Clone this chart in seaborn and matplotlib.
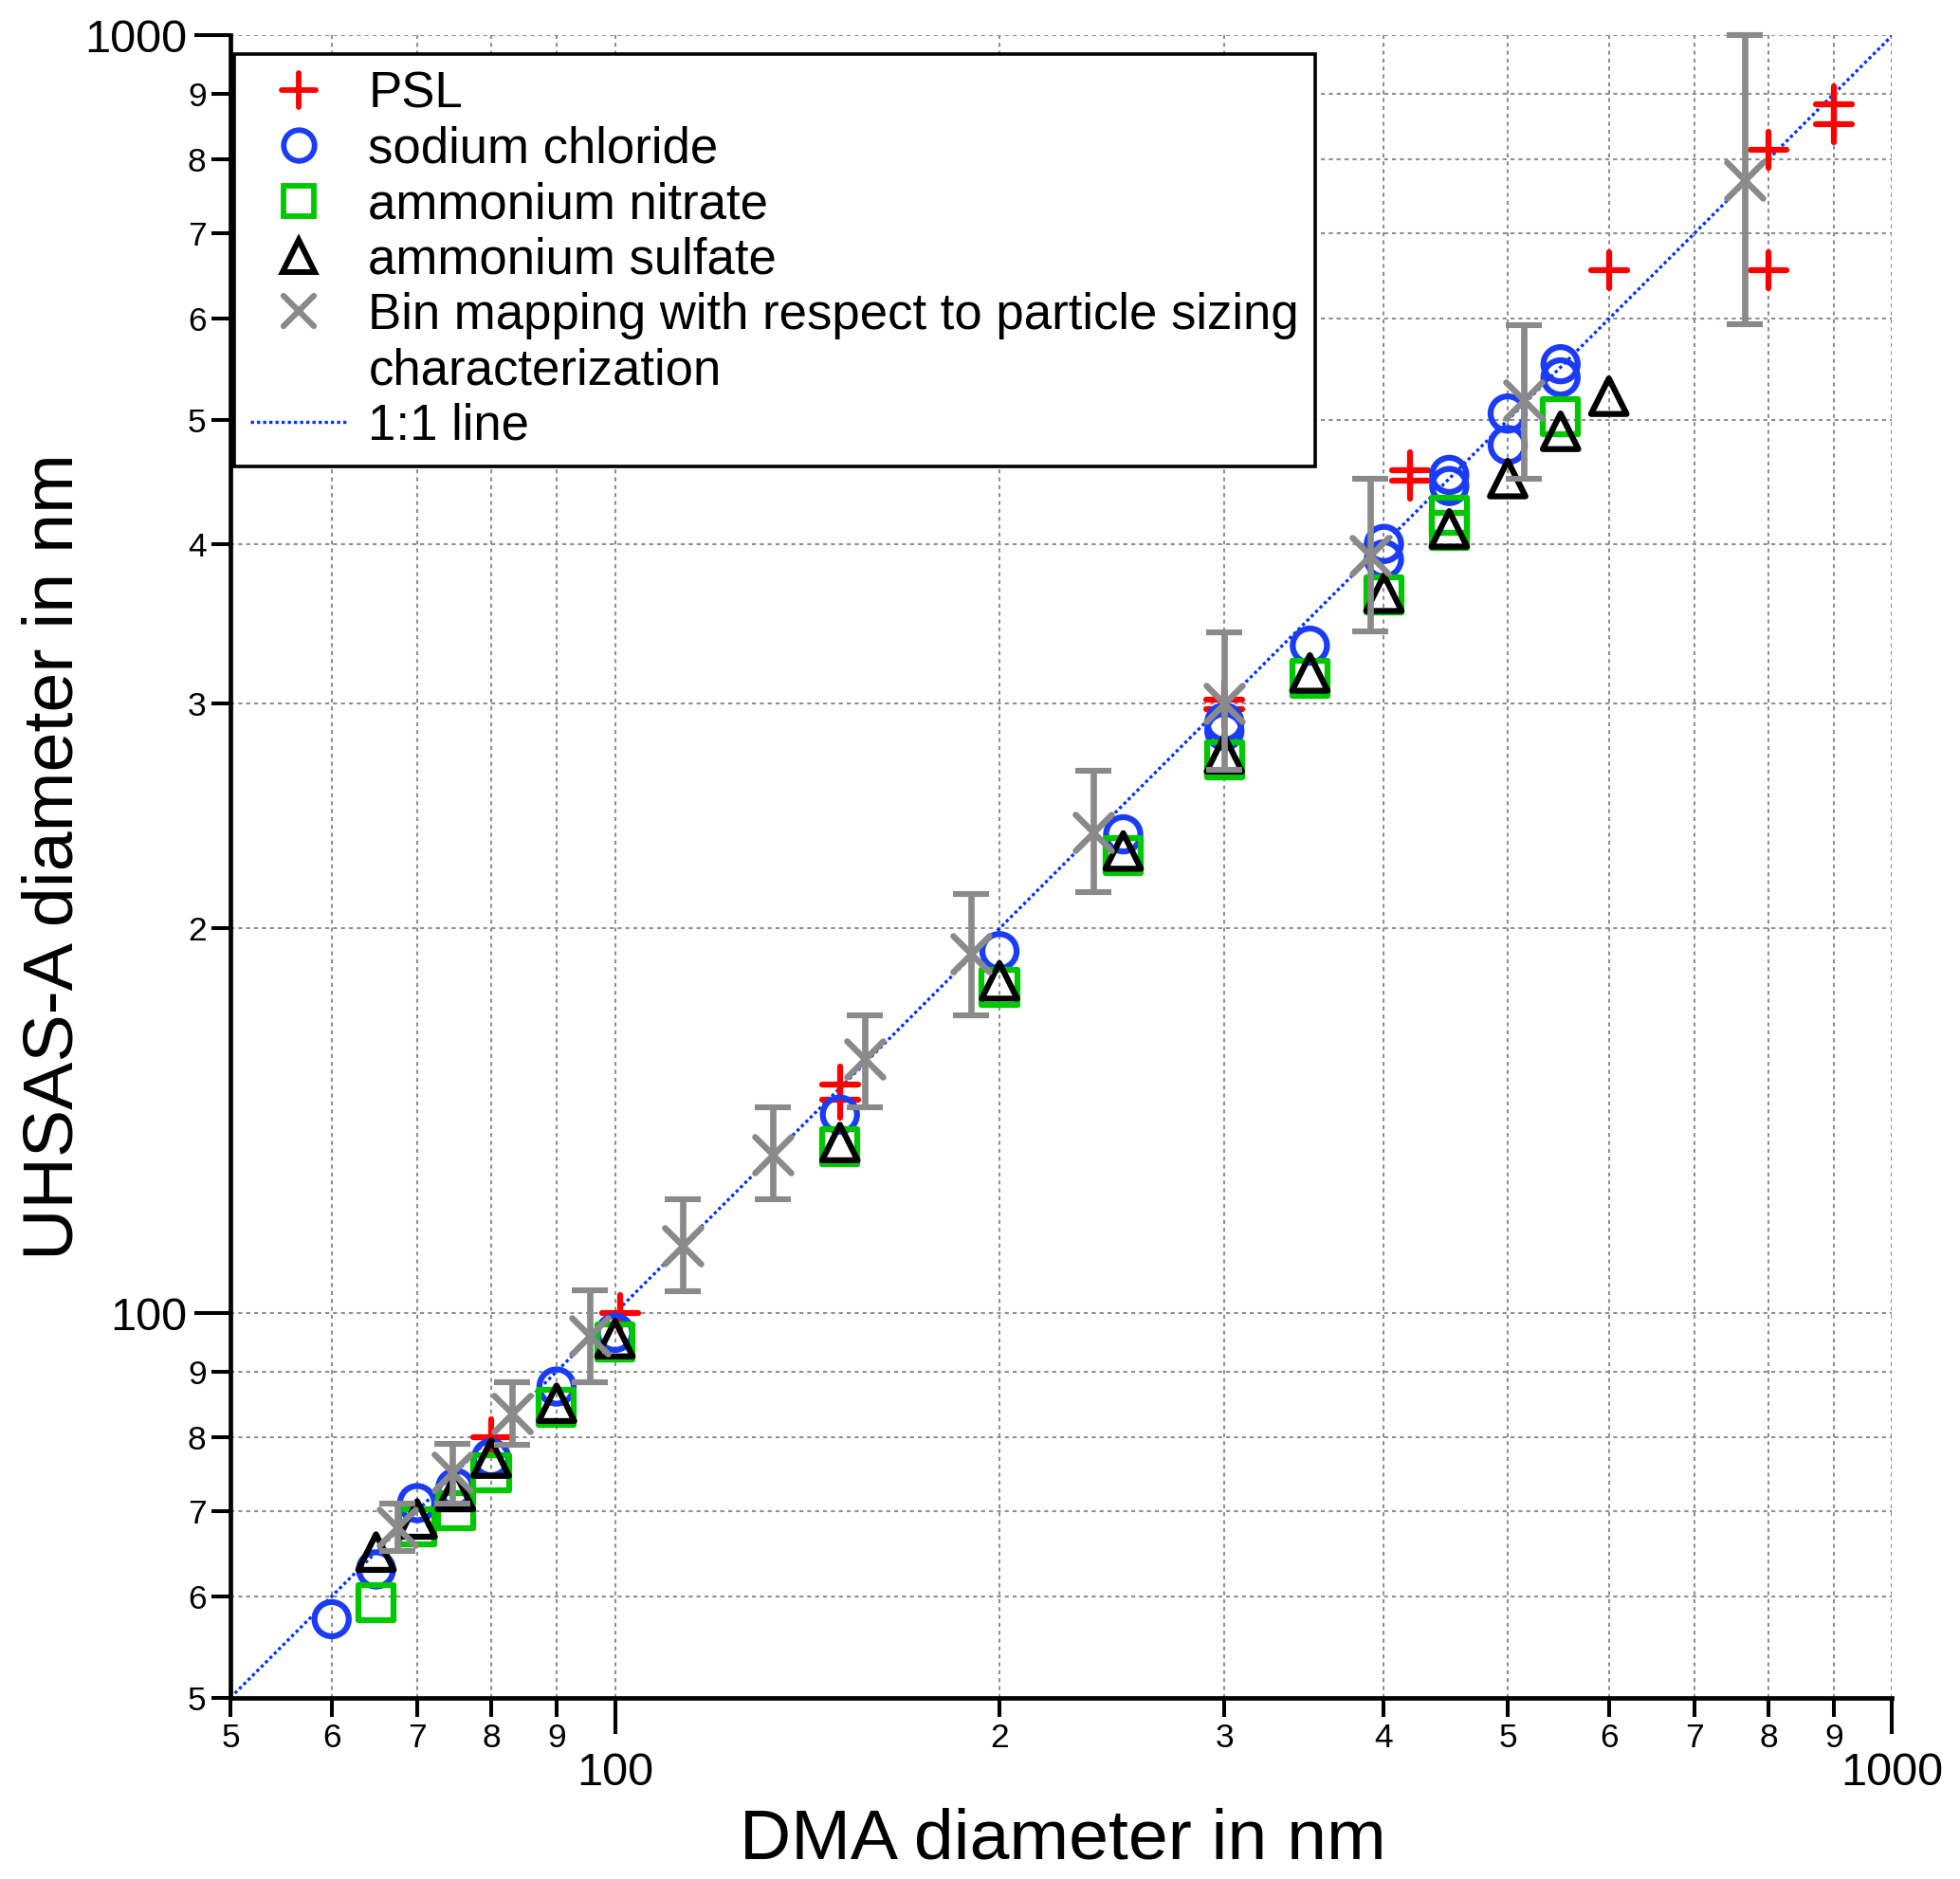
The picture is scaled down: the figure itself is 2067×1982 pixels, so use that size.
import matplotlib
matplotlib.use("Agg")
import matplotlib.pyplot as plt
from matplotlib.lines import Line2D
from matplotlib.markers import MarkerStyle
from matplotlib.ticker import FixedLocator, FixedFormatter
import seaborn as sns
import numpy as np

# ---------------- data ----------------
psl_dma = [80, 101, 150, 150, 300, 300, 419, 419, 600, 800, 800, 900, 900]
psl_uhsas = [80, 100, 151, 147, 302, 297, 457, 448, 655, 814, 655, 884, 852]

nacl_dma = [60, 65, 70, 75, 80, 90, 100, 150, 200, 250, 300, 300, 350,
            400, 400, 450, 450, 500, 500, 550, 550]
nacl_uhsas = [57.6, 63, 71, 73, 77, 87.6, 96.5, 143, 192, 237, 290, 285.5, 333,
              400, 389, 453, 444, 506, 478, 553, 540]

an_dma = [65, 70, 75, 80, 90, 100, 150, 200, 250, 300, 350, 400, 450, 450, 550]
an_uhsas = [59.3, 68, 70, 75, 84.4, 95, 135, 180, 228, 271, 314, 365, 421, 410, 503]

as_dma = [65, 70, 75, 80, 90, 100, 150, 200, 250, 300, 350, 400, 450, 500, 550, 600]
as_uhsas = [65, 69, 72.5, 77, 85, 95.5, 136, 182, 230, 274, 317, 366, 411, 450, 490, 522]

bin_dma = [67.6, 74.6, 83, 95.5, 113, 133, 157, 190, 237, 300, 390, 515, 766]
bin_uhsas = [68, 75, 83.4, 96, 113, 133, 158, 191, 238, 300, 392, 518, 771]
bin_low = [65.1, 70.9, 78.9, 88.3, 104.1, 122.7, 145, 171, 213.4, 266, 341.6, 450, 594]
bin_high = [70.9, 79, 88.3, 104.2, 122.7, 145, 171, 213, 265.7, 341, 450, 593, 1000]

one_to_one = [50, 1000]

major_ticks = [100, 1000]
major_labels = ["100", "1000"]
minor_ticks = [50, 60, 70, 80, 90, 200, 300, 400, 500, 600, 700, 800, 900]
minor_labels = ["5", "6", "7", "8", "9", "2", "3", "4", "5", "6", "7", "8", "9"]

series_labels = ["PSL", "sodium chloride", "ammonium nitrate", "ammonium sulfate",
                 "Bin mapping with respect to particle sizing", "characterization",
                 "1:1 line"]

# ---------------- style ----------------
RED = "#ff0000"
BLUE = "#1a3cf5"
GREEN = "#00c800"
BLACK = "#000000"
GRAY = "#8a8a8a"
LINEBLUE = "#0033ff"
LW = 4.5

plt.rcParams["font.family"] = ["Liberation Sans", "DejaVu Sans"]

fig = plt.figure(figsize=(20.67, 19.82), dpi=100)
ax = fig.add_axes([0.1176, 0.0965, 0.8478, 0.8846])

ax.set_xscale("log")
ax.set_yscale("log")
ax.set_xlim(50, 1000)
ax.set_ylim(50, 1000)

# 1:1 line
sns.lineplot(x=one_to_one, y=one_to_one, ax=ax, color=LINEBLUE, lw=2.4,
             linestyle=(0, (1, 0.95)), zorder=1.5)

sns.scatterplot(x=psl_dma, y=psl_uhsas, ax=ax, marker="+", s=28.0 ** 2,
                color=RED, linewidth=LW, capstyle="round", zorder=2,
                clip_on=False, legend=False)
sns.scatterplot(x=nacl_dma, y=nacl_uhsas, ax=ax, marker="o", s=26.0 ** 2,
                color=BLUE, facecolor="none", edgecolor=BLUE, linewidth=LW,
                zorder=3, clip_on=False, legend=False)
sns.scatterplot(x=an_dma, y=an_uhsas, ax=ax, marker="s", s=26.7 ** 2,
                color=GREEN, facecolor="none", edgecolor=GREEN, linewidth=LW,
                zorder=4, clip_on=False, legend=False)
sns.scatterplot(x=as_dma, y=as_uhsas, ax=ax, marker="^", s=27.0 ** 2,
                color=BLACK, facecolor="none", edgecolor=BLACK, linewidth=LW,
                zorder=5, clip_on=False, legend=False)

yerr = [np.array(bin_uhsas) - np.array(bin_low), np.array(bin_high) - np.array(bin_uhsas)]
ax.errorbar(bin_dma, bin_uhsas, yerr=yerr, fmt="none", ecolor=GRAY,
            elinewidth=4.8, capsize=13.4, capthick=4.4, zorder=6, clip_on=False)
sns.scatterplot(x=bin_dma, y=bin_uhsas, ax=ax, marker="x", s=27.4 ** 2,
                color=GRAY, linewidth=4.7, capstyle="round", zorder=7,
                clip_on=False, legend=False)

# ---------------- axes ----------------
for axis in (ax.xaxis, ax.yaxis):
    axis.set_major_locator(FixedLocator(major_ticks))
    axis.set_major_formatter(FixedFormatter(major_labels))
    axis.set_minor_locator(FixedLocator(minor_ticks))
    axis.set_minor_formatter(FixedFormatter(minor_labels))

ax.grid(which="both", color="#8f8f8f", linestyle=(0, (2.0, 2.0)), lw=1.5)
ax.set_axisbelow(True)

for s in ("top", "right"):
    ax.spines[s].set_visible(False)
for s in ("left", "bottom"):
    ax.spines[s].set_linewidth(3.4)
    ax.spines[s].set_color("black")

ax.tick_params(which="major", length=27.4, width=2.9, direction="out", colors="black")
ax.tick_params(which="minor", length=14.4, width=2.9, direction="out", colors="black")
ax.tick_params(axis="x", which="major", labelsize=35, pad=13.7)
ax.tick_params(axis="x", which="minor", labelsize=25.5, pad=4.5)
ax.tick_params(axis="y", which="major", labelsize=35, pad=5.5)
ax.tick_params(axis="y", which="minor", labelsize=25.5, pad=4)

ax.set_xlabel("DMA diameter in nm", fontsize=54.2)
ax.set_ylabel("UHSAS-A diameter in nm", fontsize=54.3)
ax.xaxis.set_label_coords(0.501, -0.066)
ax.yaxis.set_label_coords(-0.0867, 0.506)

# ---------------- legend ----------------
handles = [
    Line2D([], [], ls="", marker=MarkerStyle("+", capstyle="round"), color=RED, ms=25.5, mew=4.2),
    Line2D([], [], ls="", marker="o", mfc="none", mec=BLUE, ms=23.4, mew=4.2),
    Line2D([], [], ls="", marker="s", mfc="none", mec=GREEN, ms=23.4, mew=4.2),
    Line2D([], [], ls="", marker="^", mfc="none", mec=BLACK, ms=24.0, mew=4.3),
    Line2D([], [], ls="", marker=MarkerStyle("x", capstyle="round"), color=GRAY, ms=23.5, mew=4.5),
    Line2D([], [], ls="", marker=""),
    Line2D([], [], color=LINEBLUE, lw=2.4, ls=(0, (1, 0.95))),
]
leg = ax.legend(handles, series_labels, loc="upper left",
                bbox_to_anchor=(0.1195, 0.9712), bbox_transform=fig.transFigure,
                borderaxespad=0, fontsize=38, frameon=True, fancybox=False,
                framealpha=1, edgecolor="black", borderpad=0.33,
                labelspacing=0.158, handlelength=1.9, handletextpad=0.45)
leg.get_frame().set_linewidth(2.6)
leg.set_zorder(10)

fig.savefig("out.png", dpi=100)
